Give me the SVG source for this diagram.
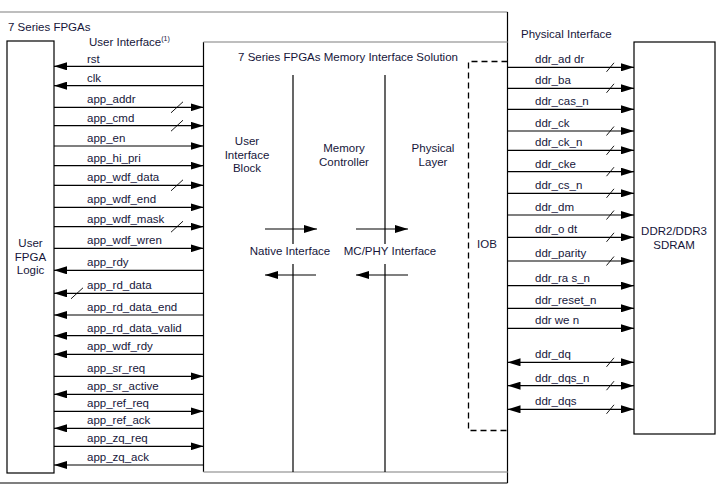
<svg xmlns="http://www.w3.org/2000/svg" width="720" height="488" viewBox="0 0 720 488">
<style>
text{font-family:"Liberation Sans",Arial,sans-serif;font-size:11.5px;fill:#16163a}
.c{text-anchor:middle}
.ln{stroke:#000;stroke-width:1.2;fill:none}
.gr{stroke:#a8a8a8;stroke-width:1.6;fill:none}
.box{fill:#fff;stroke:#000;stroke-width:1.2}
.r{marker-end:url(#ah)}
.b{marker-start:url(#ah);marker-end:url(#ah)}
.sl{stroke:#000;stroke-width:0.9}
</style>
<defs>
<marker id="ah" viewBox="0 0 13 8" refX="13" refY="4" markerWidth="13" markerHeight="8" orient="auto-start-reverse" markerUnits="userSpaceOnUse"><path d="M0,0 L13,4 L0,8 z" fill="#000"/></marker>
</defs>
<rect width="720" height="488" fill="#fff"/>

<g id="fpga_frame">
<line class="gr" x1="0" y1="12" x2="507.5" y2="12"/>
<line class="ln" x1="507.5" y1="12" x2="507.5" y2="483"/>
<line class="ln" x1="0" y1="483" x2="507.5" y2="483"/>
<text x="8" y="30.5">7 Series FPGAs</text>
<text x="89" y="45.5">User Interface<tspan font-size="7" dy="-4.5">(1)</tspan></text>
<text x="521" y="37.5">Physical Interface</text>
</g>

<g id="user_fpga_logic">
<rect class="box" x="7" y="41" width="47" height="432"/>
<text class="c" x="30.5" y="246.5">User</text>
<text class="c" x="30.5" y="260.5">FPGA</text>
<text class="c" x="30.5" y="274">Logic</text>
</g>

<g id="memory_interface_solution">
<line class="ln" x1="203.5" y1="42" x2="203.5" y2="472"/>
<line class="gr" x1="203.5" y1="42" x2="507.5" y2="42"/>
<line class="gr" x1="203.5" y1="472" x2="507.5" y2="472"/>
<text class="c" x="348" y="60.5">7 Series FPGAs Memory Interface Solution</text>
<line class="ln" x1="293" y1="75" x2="293" y2="244"/>
<line class="ln" x1="293" y1="264" x2="293" y2="472"/>
<line class="ln" x1="385" y1="75" x2="385" y2="244"/>
<line class="ln" x1="385" y1="264" x2="385" y2="472"/>
</g>

<g id="user_interface_block">
<text class="c" x="247" y="145">User</text>
<text class="c" x="247" y="158.5">Interface</text>
<text class="c" x="247" y="172">Block</text>
</g>
<g id="memory_controller">
<text class="c" x="344" y="152">Memory</text>
<text class="c" x="344" y="166">Controller</text>
</g>
<g id="physical_layer">
<text class="c" x="433" y="152">Physical</text>
<text class="c" x="433" y="166">Layer</text>
</g>

<g id="iob">
<path d="M507.5,61.5 H468.5 V430.5 H507.5" fill="none" stroke="#000" stroke-width="1.3" stroke-dasharray="6,4"/>
<text class="c" x="487" y="248">IOB</text>
</g>

<g id="sdram">
<rect class="box" x="634" y="42" width="81" height="392"/>
<text class="c" x="674" y="235">DDR2/DDR3</text>
<text class="c" x="674" y="248.5">SDRAM</text>
</g>

<g id="connectors">
<!-- internal interfaces -->
<line class="ln r" x1="265" y1="229" x2="317" y2="229"/>
<line class="ln r" x1="356" y1="229" x2="408" y2="229"/>
<line class="ln r" x1="316" y1="275" x2="265" y2="275"/>
<line class="ln r" x1="408" y1="275" x2="356" y2="275"/>
<text class="c" x="290" y="255">Native Interface</text>
<text class="c" x="390" y="255">MC/PHY Interface</text>

<!-- user interface signals -->
<line class="ln r" x1="203.5" y1="66.3" x2="54" y2="66.3"/><text x="87" y="63">rst</text>
<line class="ln r" x1="203.5" y1="85.7" x2="54" y2="85.7"/><text x="87" y="82">clk</text>
<line class="ln r" x1="54" y1="107.3" x2="203.5" y2="107.3"/><text x="87" y="103">app_addr</text>
<line class="sl" x1="171" y1="112.8" x2="183" y2="101.8"/>
<line class="ln r" x1="54" y1="125.7" x2="203.5" y2="125.7"/><text x="87" y="121.5">app_cmd</text>
<line class="sl" x1="171" y1="131.2" x2="183" y2="120.2"/>
<line class="ln r" x1="54" y1="146" x2="203.5" y2="146"/><text x="87" y="142">app_en</text>
<line class="ln r" x1="54" y1="165.7" x2="203.5" y2="165.7"/><text x="87" y="161.5">app_hi_pri</text>
<line class="ln r" x1="54" y1="185.3" x2="203.5" y2="185.3"/><text x="87" y="181">app_wdf_data</text>
<line class="sl" x1="171" y1="190.8" x2="183" y2="179.8"/>
<line class="ln r" x1="54" y1="207.3" x2="203.5" y2="207.3"/><text x="87" y="203">app_wdf_end</text>
<line class="ln r" x1="54" y1="226.7" x2="203.5" y2="226.7"/><text x="87" y="222.5">app_wdf_mask</text>
<line class="sl" x1="171" y1="232.2" x2="183" y2="221.2"/>
<line class="ln r" x1="54" y1="248.3" x2="203.5" y2="248.3"/><text x="87" y="244">app_wdf_wren</text>
<line class="ln r" x1="203.5" y1="270.3" x2="54" y2="270.3"/><text x="87" y="266">app_rdy</text>
<line class="ln r" x1="203.5" y1="293.3" x2="54" y2="293.3"/><text x="87" y="289">app_rd_data</text>
<line class="sl" x1="71" y1="298.8" x2="83" y2="287.8"/>
<line class="ln r" x1="203.5" y1="315" x2="54" y2="315"/><text x="87" y="311">app_rd_data_end</text>
<line class="ln r" x1="203.5" y1="335.7" x2="54" y2="335.7"/><text x="87" y="331.5">app_rd_data_valid</text>
<line class="ln r" x1="203.5" y1="354.3" x2="54" y2="354.3"/><text x="87" y="350">app_wdf_rdy</text>
<line class="ln r" x1="54" y1="376.3" x2="203.5" y2="376.3"/><text x="87" y="372">app_sr_req</text>
<line class="ln r" x1="203.5" y1="394.3" x2="54" y2="394.3"/><text x="87" y="390">app_sr_active</text>
<line class="ln r" x1="54" y1="411.3" x2="203.5" y2="411.3"/><text x="87" y="407">app_ref_req</text>
<line class="ln r" x1="203.5" y1="428.3" x2="54" y2="428.3"/><text x="87" y="424">app_ref_ack</text>
<line class="ln r" x1="54" y1="446.3" x2="203.5" y2="446.3"/><text x="87" y="442">app_zq_req</text>
<line class="ln r" x1="203.5" y1="465" x2="54" y2="465"/><text x="87" y="461">app_zq_ack</text>

<!-- physical interface signals -->
<line class="ln r" x1="507.5" y1="67.3" x2="634" y2="67.3"/><text x="535" y="63.3">ddr_ad dr</text>
<line class="sl" x1="606.5" y1="71.8" x2="614" y2="62.8"/>
<line class="ln r" x1="507.5" y1="88.3" x2="634" y2="88.3"/><text x="535" y="84.3">ddr_ba</text>
<line class="sl" x1="606.5" y1="92.8" x2="614" y2="83.8"/>
<line class="ln r" x1="507.5" y1="109.3" x2="634" y2="109.3"/><text x="535" y="105.3">ddr_cas_n</text>
<line class="ln r" x1="507.5" y1="131" x2="634" y2="131"/><text x="535" y="127">ddr_ck</text>
<line class="sl" x1="606.5" y1="135.5" x2="614" y2="126.5"/>
<line class="ln r" x1="507.5" y1="150.3" x2="634" y2="150.3"/><text x="535" y="146.3">ddr_ck_n</text>
<line class="sl" x1="606.5" y1="154.8" x2="614" y2="145.8"/>
<line class="ln r" x1="507.5" y1="171.7" x2="634" y2="171.7"/><text x="535" y="167.7">ddr_cke</text>
<line class="sl" x1="606.5" y1="176.2" x2="614" y2="167.2"/>
<line class="ln r" x1="507.5" y1="193.3" x2="634" y2="193.3"/><text x="535" y="189.3">ddr_cs_n</text>
<line class="sl" x1="606.5" y1="197.8" x2="614" y2="188.8"/>
<line class="ln r" x1="507.5" y1="215" x2="634" y2="215"/><text x="535" y="211">ddr_dm</text>
<line class="sl" x1="606.5" y1="219.5" x2="614" y2="210.5"/>
<line class="ln r" x1="507.5" y1="237.3" x2="634" y2="237.3"/><text x="535" y="233.3">ddr_o dt</text>
<line class="sl" x1="606.5" y1="241.8" x2="614" y2="232.8"/>
<line class="ln r" x1="507.5" y1="261" x2="634" y2="261"/><text x="535" y="257">ddr_parity</text>
<line class="sl" x1="606.5" y1="265.5" x2="614" y2="256.5"/>
<line class="ln r" x1="507.5" y1="285.7" x2="634" y2="285.7"/><text x="535" y="281.7">ddr_ra s_n</text>
<line class="ln r" x1="507.5" y1="308.3" x2="634" y2="308.3"/><text x="535" y="304.3">ddr_reset_n</text>
<line class="ln r" x1="507.5" y1="328.3" x2="634" y2="328.3"/><text x="535" y="324.3">ddr we n</text>
<line class="ln b" x1="507.5" y1="362.3" x2="634" y2="362.3"/><text x="535" y="358.3">ddr_dq</text>
<line class="sl" x1="606.5" y1="366.8" x2="614" y2="357.8"/>
<line class="ln b" x1="507.5" y1="385.7" x2="634" y2="385.7"/><text x="535" y="381.7">ddr_dqs_n</text>
<line class="sl" x1="606.5" y1="390.2" x2="614" y2="381.2"/>
<line class="ln b" x1="507.5" y1="409.3" x2="634" y2="409.3"/><text x="535" y="405.3">ddr_dqs</text>
<line class="sl" x1="606.5" y1="413.8" x2="614" y2="404.8"/>
</g>
</svg>
